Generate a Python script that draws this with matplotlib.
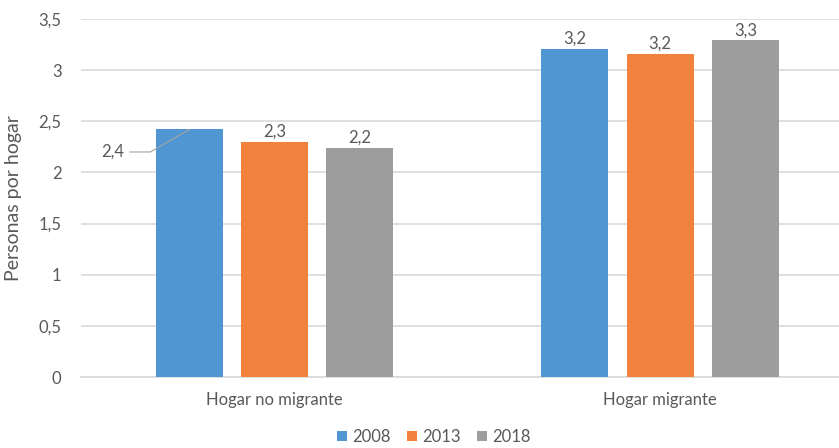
import numpy as np
import matplotlib.pyplot as plt

# data
categories = ["Hogar no migrante", "Hogar migrante"]
years = ["2008", "2013", "2018"]
v2008 = [2.42, 3.21]
v2013 = [2.30, 3.16]
v2018 = [2.24, 3.29]
labels2008 = ["2,4", "3,2"]
labels2013 = ["2,3", "3,2"]
labels2018 = ["2,2", "3,3"]
yticks = [0, 0.5, 1, 1.5, 2, 2.5, 3, 3.5]
yticklabels = ["0", "0,5", "1", "1,5", "2", "2,5", "3", "3,5"]

colors = ["#4F96D2", "#F0823D", "#9D9D9D"]
txt = "#595959"

plt.rcParams['font.family'] = ['Lato', 'DejaVu Sans']

fig = plt.figure(figsize=(8.39, 4.48), dpi=100)
ax = fig.add_axes([81/839, 1 - 377/448, (839-81)/839, (377-19)/448])

x = np.arange(len(categories))
w = 0.174
step = 0.221
series = [v2008, v2013, v2018]
labs = [labels2008, labels2013, labels2018]
for i, (vals, lab) in enumerate(zip(series, labs)):
    pos = x + (i - 1) * step
    ax.bar(pos, vals, width=w, color=colors[i], label=years[i], zorder=3)
    for j, (p, v, l) in enumerate(zip(pos, vals, lab)):
        if i == 0 and j == 0:
            # leader line label
            ax.annotate(l, xy=(p, v), xytext=(-0.39, 2.2), ha="right", va="center",
                        fontsize=12, color=txt,
                        arrowprops=dict(arrowstyle="-", color="#A6A6A6", lw=0.8,
                                        shrinkA=2, shrinkB=0,
                                        connectionstyle="angle,angleA=0,angleB=30,rad=0"))
        else:
            ax.text(p, v + 0.02, l, ha="center", va="bottom", fontsize=12, color=txt)

ax.set_xlim(-0.502, 1.464)
ax.set_ylim(0, 3.5)
ax.set_yticks(yticks)
ax.set_yticklabels(yticklabels)
ax.set_xticks(x)
ax.set_xticklabels(categories)
ax.tick_params(axis="both", length=0, colors=txt, labelsize=12)
ax.tick_params(axis="x", pad=11)
ax.tick_params(axis="y", pad=14)
ax.grid(axis="y", color="#D9D9D9", lw=1.2, zorder=0)
for s in ["top", "right", "left"]:
    ax.spines[s].set_visible(False)
ax.spines["bottom"].set_color("#D9D9D9")
ax.spines["bottom"].set_linewidth(1.2)

ax.set_ylabel("Personas por hogar", fontsize=14, color=txt, labelpad=12)

fig.legend(loc="center", bbox_to_anchor=(434/839, 1 - 437/448), ncol=3, frameon=False,
           fontsize=12, labelcolor=txt, handlelength=0.6, handleheight=0.6,
           handletextpad=0.3, columnspacing=1.0)

plt.savefig("out.png", dpi=100)
